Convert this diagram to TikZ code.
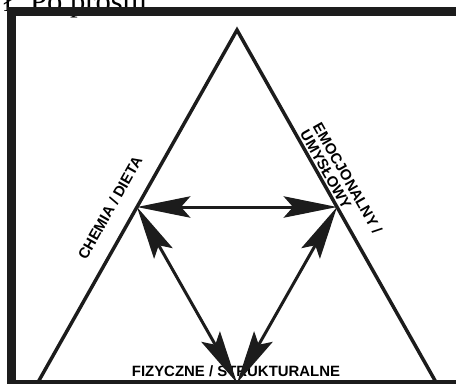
\documentclass[tikz,border=0pt]{standalone}
\usepackage{fontspec}
\usepackage{xcolor}
\usepackage{tikz}
\usetikzlibrary{arrows.meta, calc}
\setmainfont{Liberation Serif}
\newfontfamily\labelfont{Liberation Sans}
\definecolor{ink}{HTML}{1C1C1C}
\tikzset{
  sidelabel/.style={font=\labelfont\bfseries\fontsize{11.2}{11}\selectfont, inner sep=0pt, text=black},
  link/.style={ink, line width=2.25pt, {Stealth[length=40pt,width=16pt,inset=7pt]}-{Stealth[length=40pt,width=16pt,inset=7pt]}},
}

\begin{document}
\begin{tikzpicture}[x=0.75pt, y=-0.75pt]
  \useasboundingbox (0,0) rectangle (456,383);
  \clip (0,0) rectangle (456,383);
  % Cut-off heading
  \node[font=\fontsize{23}{23}\selectfont, anchor=base east, inner sep=0pt] (heading) at (147,11) {ł. Po prostu};
  % Frame
  \draw[ink, line width=6.75pt] (11.5,11.5) rectangle (480,384);
  % Triangle
  \coordinate (apex) at (237,30);
  \coordinate (left) at (37,384);
  \coordinate (right) at (437,384);
  \draw[ink, line width=2.6pt, line join=miter] (left) -- (apex) -- (right);
  % Vertices
  \coordinate (chem) at ($(apex)!0.5!(left)$);
  \coordinate (emo) at ($(apex)!0.5!(right)$);
  \coordinate (fiz) at (237,383);
  % Labels
  \node[sidelabel, rotate=60.5] (chemlabel) at (110,208) {CHEMIA / DIETA};
  \node[sidelabel, rotate=-60.5, anchor=north west, align=left] (emolabel) at (322,121) {EMOCJONALNY /\\UMYSŁOWY};
  \node[sidelabel, anchor=base] (fizlabel) at (236,376) {FIZYCZNE / STRUKTURALNE};
  % Arrows
  \draw[link] (chem) -- (emo);
  \draw[link] (chem) -- (fiz);
  \draw[link] (emo) -- (fiz);
\end{tikzpicture}
\end{document}
